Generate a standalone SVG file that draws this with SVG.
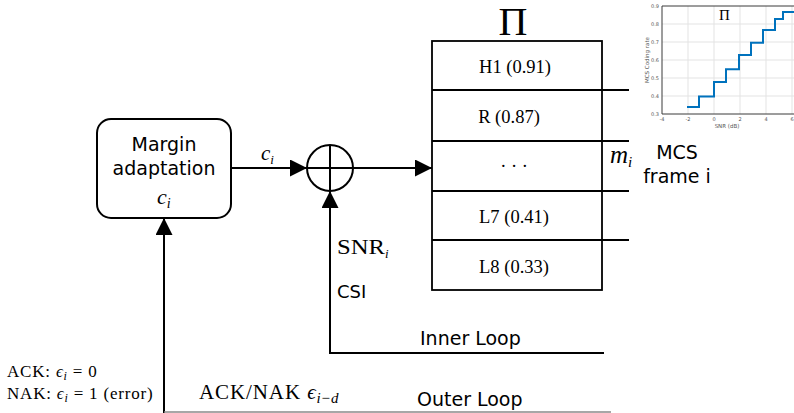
<svg xmlns="http://www.w3.org/2000/svg" width="794" height="413" viewBox="0 0 794 413">
  <defs>
    <marker id="arrow" markerUnits="userSpaceOnUse" markerWidth="17" markerHeight="17" refX="17" refY="8.5" orient="auto">
      <path d="M0,0 L17,8.5 L0,17 z" fill="#000"/>
    </marker>
    <clipPath id="plotClip">
      <rect x="630" y="0" width="164" height="130"/>
    </clipPath>
  </defs>
  <style>
    .sans { font-family: "DejaVu Sans", "Liberation Sans", sans-serif; fill: #000; }
    .serif { font-family: "Liberation Serif", "DejaVu Serif", serif; fill: #000; }
    .it { font-style: italic; }
    .wire { fill: none; stroke: #000; stroke-width: 2; }
    .cell { fill: none; stroke: #000; stroke-width: 1.8; }
    .grid { stroke: #e3e3e3; stroke-width: 1; }
    .axis { stroke: #3a3a3a; stroke-width: 1; fill: none; }
    .tick { font-family: "DejaVu Sans", sans-serif; font-size: 5px; fill: #555; }
  </style>

  <rect width="794" height="413" fill="#fff"/>

  <!-- Margin adaptation block -->
  <g id="margin-adaptation">
    <rect x="97" y="119" width="134" height="99" rx="14" ry="14" class="wire"/>
    <text x="164" y="151" class="sans" font-size="19" text-anchor="middle">Margin</text>
    <text x="164" y="175" class="sans" font-size="19" text-anchor="middle">adaptation</text>
    <text x="157" y="204" class="serif it" font-size="22">c<tspan font-size="14" dy="4">i</tspan></text>
  </g>

  <!-- Summing junction -->
  <g id="sum">
    <circle cx="330" cy="168" r="23" class="wire"/>
    <line x1="307" y1="168" x2="353" y2="168" class="wire"/>
    <line x1="330" y1="145" x2="330" y2="191" class="wire"/>
  </g>

  <!-- MCS table Pi -->
  <g id="mcs-table">
    <text x="513" y="35" class="serif" font-size="40" text-anchor="middle">Π</text>
    <rect x="432" y="41" width="170" height="249" class="cell"/>
    <line x1="432" y1="90" x2="629" y2="90" class="cell"/>
    <line x1="432" y1="141" x2="629" y2="141" class="cell"/>
    <line x1="432" y1="191" x2="629" y2="191" class="cell"/>
    <line x1="432" y1="240" x2="629" y2="240" class="cell"/>
    <text x="515" y="73" class="serif" font-size="18.5" text-anchor="middle">H1 (0.91)</text>
    <text x="509" y="123" class="serif" font-size="18.5" text-anchor="middle">R (0.87)</text>
    <text x="514" y="172" class="serif" font-size="18.5" text-anchor="middle">· · ·</text>
    <text x="514" y="223" class="serif" font-size="18.5" text-anchor="middle">L7 (0.41)</text>
    <text x="514" y="273" class="serif" font-size="18.5" text-anchor="middle">L8 (0.33)</text>
  </g>

  <!-- Selected MCS output -->
  <g id="mcs-output">
    <text x="610" y="163" class="serif it" font-size="25">m<tspan font-size="15" dy="4">i</tspan></text>
    <text x="677" y="159" class="sans" font-size="19" text-anchor="middle">MCS</text>
    <text x="677" y="183" class="sans" font-size="19" text-anchor="middle">frame i</text>
  </g>

  <!-- Connectors -->
  <g id="connectors">
    <line x1="231" y1="168" x2="307" y2="168" class="wire" marker-end="url(#arrow)"/>
    <line x1="353" y1="168" x2="432" y2="168" class="wire" marker-end="url(#arrow)"/>
    <path d="M604,353 H330 V191" class="wire" marker-end="url(#arrow)"/>
    <path d="M164,413 V218" class="wire" marker-end="url(#arrow)"/>
    <line x1="164" y1="412" x2="611" y2="412" stroke="#8a8a8a" stroke-width="1.5"/>
  </g>

  <!-- Connector labels -->
  <g id="labels">
    <text x="261" y="160" class="serif it" font-size="21">c<tspan font-size="13" dy="4">i</tspan></text>
    <text x="337" y="254" class="serif" font-size="21" textLength="48" lengthAdjust="spacingAndGlyphs">SNR</text>
    <text x="385" y="258" class="serif it" font-size="13">i</text>
    <text x="337" y="298" class="sans" font-size="18">CSI</text>
    <text x="420" y="345" class="sans" font-size="19">Inner Loop</text>
    <text x="417" y="406" class="sans" font-size="19">Outer Loop</text>
    <text x="199" y="399" class="serif" font-size="21" letter-spacing="0.9">ACK/NAK <tspan class="it">ϵ</tspan><tspan class="it" font-size="15" dy="4">i</tspan><tspan font-size="15">−</tspan><tspan class="it" font-size="15">d</tspan></text>
    <text x="7" y="377" class="serif" font-size="17" letter-spacing="0.8">ACK: <tspan class="it">ϵ</tspan><tspan class="it" font-size="12" dy="3">i</tspan><tspan dy="-3"> = 0</tspan></text>
    <text x="7" y="399" class="serif" font-size="17" letter-spacing="0.8">NAK: <tspan class="it">ϵ</tspan><tspan class="it" font-size="12" dy="3">i</tspan><tspan dy="-3"> = 1  (error)</tspan></text>
  </g>

  <!-- Coding rate vs SNR plot -->
  <g id="rate-plot" clip-path="url(#plotClip)">
    <rect x="662" y="6" width="140" height="108" fill="#fff"/>
    <g class="grid">
      <line x1="688" y1="6" x2="688" y2="114"/>
      <line x1="714" y1="6" x2="714" y2="114"/>
      <line x1="740" y1="6" x2="740" y2="114"/>
      <line x1="766" y1="6" x2="766" y2="114"/>
      <line x1="792" y1="6" x2="792" y2="114"/>
      <line x1="662" y1="24" x2="794" y2="24"/>
      <line x1="662" y1="42" x2="794" y2="42"/>
      <line x1="662" y1="60" x2="794" y2="60"/>
      <line x1="662" y1="78" x2="794" y2="78"/>
      <line x1="662" y1="96" x2="794" y2="96"/>
    </g>
    <path d="M662,114 V6 H794 M662,114 H794" class="axis"/>
    <g class="tick" text-anchor="end">
      <text x="659" y="8">0.9</text>
      <text x="659" y="26">0.8</text>
      <text x="659" y="44">0.7</text>
      <text x="659" y="62">0.6</text>
      <text x="659" y="80">0.5</text>
      <text x="659" y="98">0.4</text>
      <text x="659" y="116">0.3</text>
    </g>
    <g class="tick" text-anchor="middle">
      <text x="662" y="121">-4</text>
      <text x="688" y="121">-2</text>
      <text x="714" y="121">0</text>
      <text x="740" y="121">2</text>
      <text x="766" y="121">4</text>
      <text x="792" y="121">6</text>
      <text x="727" y="128" font-size="5.5">SNR (dB)</text>
      <text transform="translate(649,60) rotate(-90)" font-size="5.5">MCS Coding rate</text>
    </g>
    <text x="724.5" y="20" class="serif" font-size="15" text-anchor="middle">Π</text>
    <path d="M687,107 H699 V96.5 H714 V82 H726 V69.3 H739 V55 H751 V42.7 H763 V30 H775 V19 H783 V12 H794" fill="none" stroke="#0072BD" stroke-width="2"/>
  </g>
</svg>
